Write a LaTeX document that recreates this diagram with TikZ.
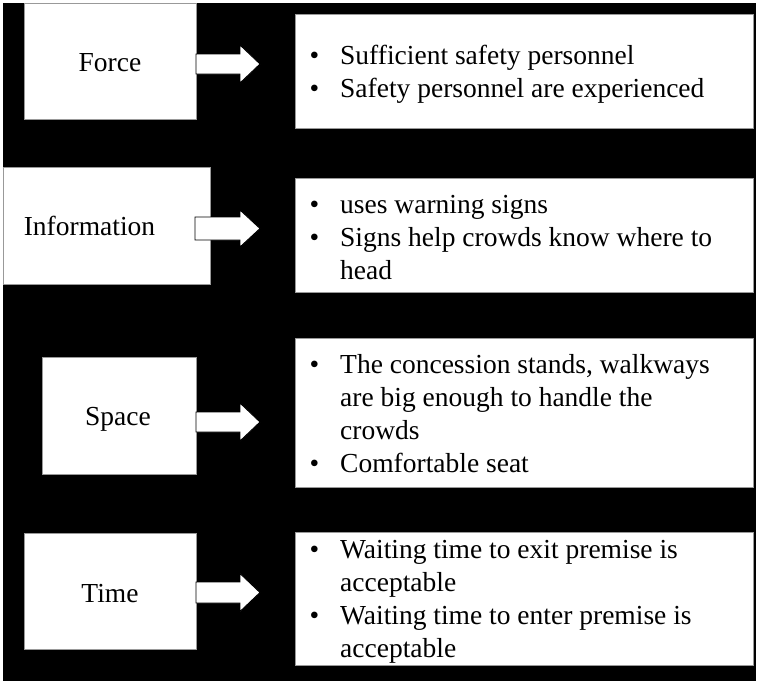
\documentclass[tikz,border=0pt]{standalone}
\usepackage{fontspec}
\setmainfont{Liberation Serif}
\begin{document}
\begin{tikzpicture}[x=1pt,y=-1pt,
  panel/.style={fill=white,draw=black!40,line width=0.6pt,inner sep=0pt,outer sep=0pt},
  cattext/.style={inner sep=0pt,anchor=base,font=\fontsize{27.5}{33}\selectfont},
  dot/.style={inner sep=0pt,anchor=base,font=\fontsize{27.5}{33}\selectfont},
  itemtext/.style={inner sep=0pt,anchor=base west,font=\fontsize{27.5}{33}\selectfont},
  arrowshape/.style={fill=white,draw=black,line width=0.9pt,line join=miter}]

% page and dark backdrop
\fill[white] (0,0) rectangle (757,681);
\fill[black] (3,3) rectangle (756,681);

% block arrow: tail coordinate, target panel, centre y, shaft half width, head half width
\newcommand\blockarrow[5]{%
  \draw[arrowshape]
    (#1 |- 0,#3-#4) -- (240,#3-#4) -- (240,#3-#5)
    -- ([xshift=-35pt]#2.west |- 0,#3)
    -- (240,#3+#5) -- (240,#3+#4) -- (#1 |- 0,#3+#4) -- cycle;}

% bullet item line: name, baseline y, text
\newcommand\bulletline[3]{%
  \node[dot] (#1d) at (314.5,#2) {•};
  \node[itemtext] (#1) at (340,#2) {#3};}
\newcommand\contline[3]{%
  \node[itemtext] (#1) at (340,#2) {#3};}

% category panels
\node[panel,minimum width=172,minimum height=116] (force) at (110,61) {};
\node[panel,minimum width=207,minimum height=117] (info)  at (106.5,225.5) {};
\node[panel,minimum width=154,minimum height=117] (space) at (119,415.5) {};
\node[panel,minimum width=172,minimum height=116] (time)  at (110,591) {};

% description panels
\node[panel,minimum width=458,minimum height=114] (forceR) at (524,71) {};
\node[panel,minimum width=458,minimum height=114] (infoR)  at (524,235) {};
\node[panel,minimum width=458,minimum height=149] (spaceR) at (524,412.5) {};
\node[panel,minimum width=458,minimum height=133] (timeR)  at (524,598.5) {};

% category names
\node[cattext] (forceT) at (110,71) {Force};
\node[cattext] (infoT)  at (89.5,235) {Information};
\node[cattext] (spaceT) at (118,425) {Space};
\node[cattext] (timeT)  at (110,602) {Time};

% arrows between panels
\coordinate (fTail) at (force.east);
\coordinate (iTail) at (195,228.5);
\coordinate (sTail) at (space.east);
\coordinate (tTail) at (time.east);
\blockarrow{fTail}{forceR}{64}{10}{19}
\blockarrow{iTail}{infoR}{228.5}{11.5}{18.5}
\blockarrow{sTail}{spaceR}{422}{10}{19}
\blockarrow{tTail}{timeR}{592.5}{10.5}{19}

% descriptions
\bulletline{f1}{64}{Sufficient safety personnel}
\bulletline{f2}{97}{Safety personnel are experienced}

\bulletline{i1}{213.5}{uses warning signs}
\bulletline{i2}{246.5}{Signs help crowds know where to}
\contline{i3}{279.5}{head}

\bulletline{s1}{373}{The concession stands, walkways}
\contline{s2}{406}{are big enough to handle the}
\contline{s3}{439}{crowds}
\bulletline{s4}{472}{Comfortable seat}

\bulletline{t1}{558}{Waiting time to exit premise is}
\contline{t2}{591}{acceptable}
\bulletline{t3}{624}{Waiting time to enter premise is}
\contline{t4}{657}{acceptable}
\end{tikzpicture}
\end{document}
